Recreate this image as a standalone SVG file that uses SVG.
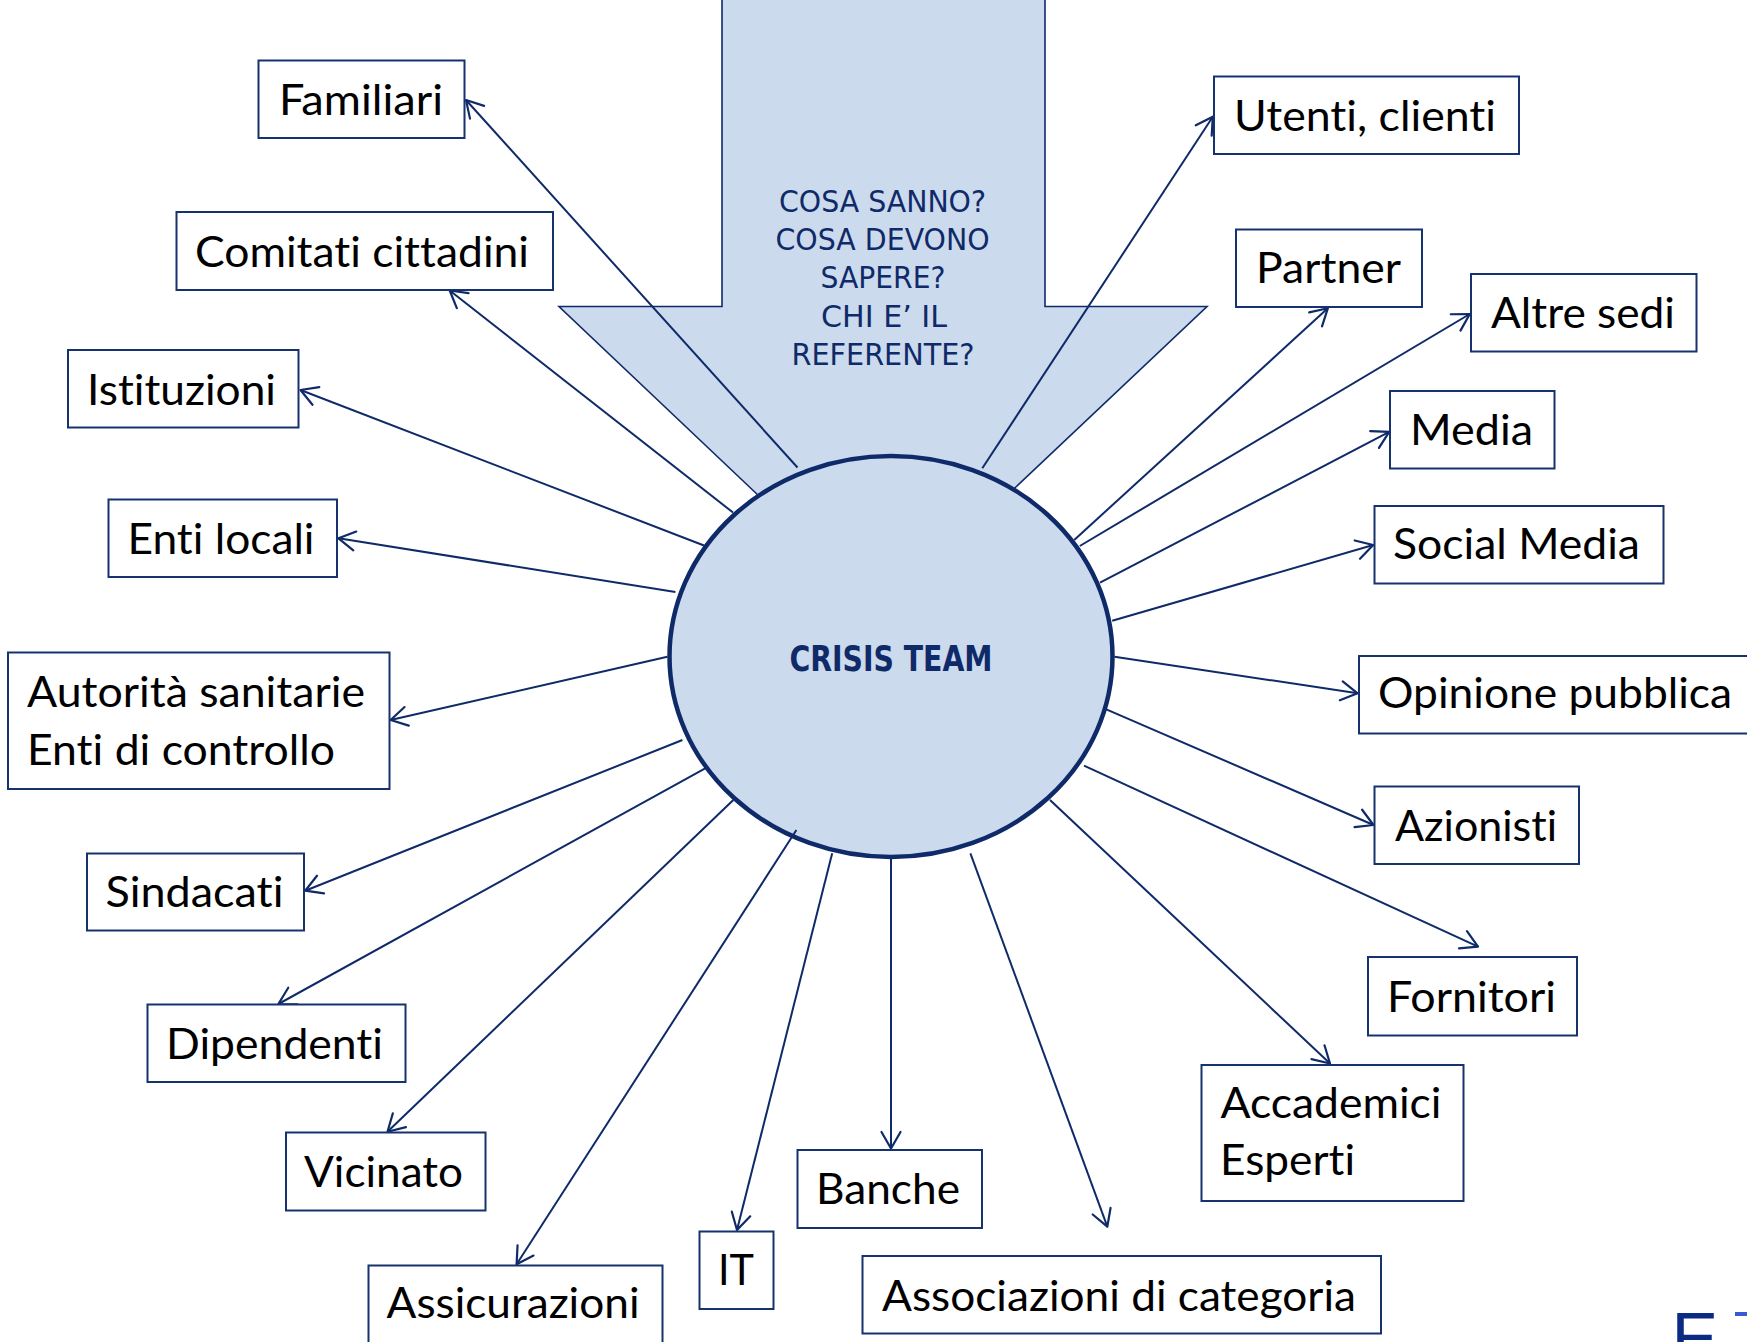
<svg xmlns="http://www.w3.org/2000/svg" width="1747" height="1342" viewBox="0 0 1747 1342">
<defs>
<style>
.box rect{fill:#FFFFFF;stroke:#16336F;stroke-width:2}
.box text{font-family:Lato,"Liberation Sans",sans-serif;font-size:42px;fill:#000000;font-variant-ligatures:none;font-feature-settings:"liga" 0,"clig" 0}
.conn line{stroke:#0F2A68;stroke-width:2;fill:none}
.blue{font-family:"DejaVu Sans","Liberation Sans",sans-serif;fill:#0F2A68;font-stretch:condensed}
</style>
<marker id="ah" markerUnits="userSpaceOnUse" markerWidth="40" markerHeight="40" viewBox="-20 -20 40 40" refX="0" refY="0" orient="auto">
<path d="M-16.5,-9.5 L0,0 L-16.5,9.5" fill="none" stroke="#0F2A68" stroke-width="2.2" stroke-linecap="round" stroke-linejoin="round"/>
</marker>
</defs>
<rect x="0" y="0" width="1747" height="1342" fill="#FFFFFF"/>

<g id="big-arrow">
<polygon points="722,-5 1045,-5 1045,306.5 1207,306.5 882.5,613 559,306.5 722,306.5" fill="#CCDAED" stroke="#0F2A68" stroke-width="1.6"/>
<text class="blue" font-size="31" x="882.5" y="212" text-anchor="middle" textLength="207" lengthAdjust="spacingAndGlyphs">COSA SANNO?</text>
<text class="blue" font-size="31" x="882.5" y="250.2" text-anchor="middle" textLength="214" lengthAdjust="spacingAndGlyphs">COSA DEVONO</text>
<text class="blue" font-size="31" x="883" y="288.4" text-anchor="middle" textLength="125" lengthAdjust="spacingAndGlyphs">SAPERE?</text>
<text class="blue" font-size="31" x="884" y="326.6" text-anchor="middle" textLength="126" lengthAdjust="spacingAndGlyphs">CHI E’ IL</text>
<text class="blue" font-size="31" x="883" y="364.8" text-anchor="middle" textLength="183" lengthAdjust="spacingAndGlyphs">REFERENTE?</text>
</g>

<g id="crisis-team">
<ellipse cx="891" cy="656.5" rx="221.5" ry="200.5" fill="#CCDAED" stroke="#0F2A68" stroke-width="4.5"/>
<text class="blue" font-size="36" font-weight="bold" x="891" y="671" text-anchor="middle" textLength="203" lengthAdjust="spacingAndGlyphs">CRISIS TEAM</text>
</g>

<g id="connectors" class="conn">
<line x1="797.5" y1="467.5" x2="466" y2="100" marker-end="url(#ah)"/>
<line x1="733" y1="512.5" x2="449.7" y2="290.5" marker-end="url(#ah)"/>
<line x1="704" y1="545.5" x2="300.5" y2="390" marker-end="url(#ah)"/>
<line x1="675.4" y1="592" x2="338.5" y2="538.3" marker-end="url(#ah)"/>
<line x1="667.4" y1="656.7" x2="390.6" y2="720" marker-end="url(#ah)"/>
<line x1="682.4" y1="740" x2="305.2" y2="890.7" marker-end="url(#ah)"/>
<line x1="705.2" y1="768.3" x2="278.4" y2="1004" marker-end="url(#ah)"/>
<line x1="733.3" y1="800" x2="387.5" y2="1131.7" marker-end="url(#ah)"/>
<line x1="796.4" y1="830" x2="516.6" y2="1264.3" marker-end="url(#ah)"/>
<line x1="832.2" y1="853.3" x2="737" y2="1230" marker-end="url(#ah)"/>
<line x1="891" y1="857" x2="891" y2="1148.5" marker-end="url(#ah)"/>
<line x1="970.4" y1="853.3" x2="1107.3" y2="1226.7" marker-end="url(#ah)"/>
<line x1="1050" y1="800" x2="1330" y2="1063.5" marker-end="url(#ah)"/>
<line x1="1084" y1="765.7" x2="1478" y2="946.7" marker-end="url(#ah)"/>
<line x1="1104" y1="708.3" x2="1373.5" y2="825" marker-end="url(#ah)"/>
<line x1="1114.5" y1="656.7" x2="1357.6" y2="693.3" marker-end="url(#ah)"/>
<line x1="1112.2" y1="620.7" x2="1373.2" y2="545" marker-end="url(#ah)"/>
<line x1="1100" y1="582.7" x2="1389.2" y2="431.9" marker-end="url(#ah)"/>
<line x1="1079.8" y1="546" x2="1469.8" y2="314" marker-end="url(#ah)"/>
<line x1="1074.2" y1="540" x2="1327.8" y2="308.3" marker-end="url(#ah)"/>
<line x1="982.3" y1="468.3" x2="1212.8" y2="116.7" marker-end="url(#ah)"/>
</g>

<g id="familiari" class="box"><rect x="258.5" y="60.5" width="206" height="77.5"/><text x="279" y="115" textLength="164" lengthAdjust="spacingAndGlyphs">Familiari</text></g>
<g id="comitati" class="box"><rect x="176.5" y="212" width="376.5" height="78"/><text x="195" y="266.7" textLength="334" lengthAdjust="spacingAndGlyphs">Comitati cittadini</text></g>
<g id="istituzioni" class="box"><rect x="68" y="350" width="230.5" height="77.5"/><text x="87" y="405" textLength="189" lengthAdjust="spacingAndGlyphs">Istituzioni</text></g>
<g id="enti-locali" class="box"><rect x="108.5" y="499.5" width="228.5" height="77.5"/><text x="127.5" y="554" textLength="187" lengthAdjust="spacingAndGlyphs">Enti locali</text></g>
<g id="autorita" class="box"><rect x="8" y="652.5" width="381.5" height="136.5"/><text x="27" y="707.3" textLength="338" lengthAdjust="spacingAndGlyphs">Autorità sanitarie</text><text x="27" y="765" textLength="308" lengthAdjust="spacingAndGlyphs">Enti di controllo</text></g>
<g id="sindacati" class="box"><rect x="87" y="853.5" width="217" height="77"/><text x="105.5" y="907.3" textLength="178" lengthAdjust="spacingAndGlyphs">Sindacati</text></g>
<g id="dipendenti" class="box"><rect x="147.5" y="1004.5" width="258" height="77.5"/><text x="166" y="1059" textLength="217" lengthAdjust="spacingAndGlyphs">Dipendenti</text></g>
<g id="vicinato" class="box"><rect x="286" y="1132.5" width="199.5" height="78"/><text x="304" y="1187.3" textLength="159" lengthAdjust="spacingAndGlyphs">Vicinato</text></g>
<g id="assicurazioni" class="box"><rect x="368.5" y="1265.5" width="294" height="90"/><text x="386.5" y="1318.3" textLength="253" lengthAdjust="spacingAndGlyphs">Assicurazioni</text></g>
<g id="it" class="box"><rect x="699.5" y="1231.5" width="74" height="77.5"/><text x="718" y="1285" textLength="36" lengthAdjust="spacingAndGlyphs">IT</text></g>
<g id="banche" class="box"><rect x="797.5" y="1150" width="184.5" height="78"/><text x="816" y="1204" textLength="144" lengthAdjust="spacingAndGlyphs">Banche</text></g>
<g id="associazioni" class="box"><rect x="862.5" y="1256" width="518.5" height="77.5"/><text x="882" y="1311" textLength="474" lengthAdjust="spacingAndGlyphs">Associazioni di categoria</text></g>
<g id="accademici" class="box"><rect x="1201.5" y="1065" width="262" height="136"/><text x="1220.5" y="1118.3" textLength="221" lengthAdjust="spacingAndGlyphs">Accademici</text><text x="1220" y="1175" textLength="135" lengthAdjust="spacingAndGlyphs">Esperti</text></g>
<g id="fornitori" class="box"><rect x="1368" y="957" width="209" height="78.5"/><text x="1387" y="1011.7" textLength="169" lengthAdjust="spacingAndGlyphs">Fornitori</text></g>
<g id="azionisti" class="box"><rect x="1374.5" y="786.5" width="204.5" height="77.5"/><text x="1395" y="840.7" textLength="162" lengthAdjust="spacingAndGlyphs">Azionisti</text></g>
<g id="opinione" class="box"><rect x="1359" y="656" width="400" height="77.5"/><text x="1378" y="708.3" textLength="354" lengthAdjust="spacingAndGlyphs">Opinione pubblica</text></g>
<g id="social-media" class="box"><rect x="1374.5" y="506" width="289" height="77.5"/><text x="1393" y="559.3" textLength="247" lengthAdjust="spacingAndGlyphs">Social Media</text></g>
<g id="media" class="box"><rect x="1390" y="391" width="164.5" height="77.5"/><text x="1410" y="445" textLength="123" lengthAdjust="spacingAndGlyphs">Media</text></g>
<g id="altre-sedi" class="box"><rect x="1471" y="274" width="225.5" height="77.5"/><text x="1491" y="328.3" textLength="184" lengthAdjust="spacingAndGlyphs">Altre sedi</text></g>
<g id="partner" class="box"><rect x="1236" y="229.5" width="186" height="77.5"/><text x="1256" y="283.3" textLength="145" lengthAdjust="spacingAndGlyphs">Partner</text></g>
<g id="utenti" class="box"><rect x="1214" y="76.5" width="305" height="77.5"/><text x="1234" y="130.7" textLength="262" lengthAdjust="spacingAndGlyphs">Utenti, clienti</text></g>

<g id="logo-fragment">
<text x="1671.5" y="1362" font-family="'Liberation Sans',sans-serif" font-size="70" fill="#0B2A84">E</text>
<rect x="1735" y="1312" width="12" height="4" fill="#3A5BD0"/>
</g>
</svg>
